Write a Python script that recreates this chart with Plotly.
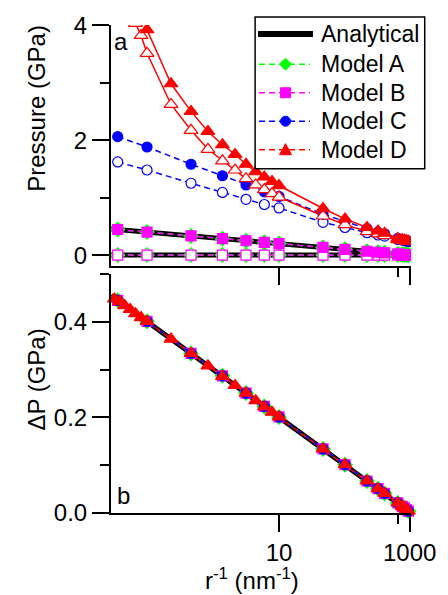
import plotly.graph_objects as go

# ---- data -------------------------------------------------------------
# sampling points, r^-1 (nm^-1)
x_abc = [4.5, 5, 6, 7, 8, 9, 10, 15, 20, 30, 40, 50, 100, 150, 200, 300, 500]
x_d = [4.45, 4.53, 4.61, 4.7, 4.79, 4.89, 5, 5.5, 6, 6.5, 7, 7.5, 8, 8.5, 9, 9.5,
       10, 15, 20, 30, 40, 50, 100, 150, 200, 300, 500]
x_an = [4.4, 5, 6, 7, 8, 10, 15, 20, 50, 100, 1000]

# analytical curves (GPa)
p_an_in = [0.455, 0.40, 0.333, 0.286, 0.25, 0.20, 0.133, 0.10, 0.04, 0.02, 0.002]
p_an_out = [0.0, 0.0, 0.0, 0.0, 0.0, 0.0, 0.0, 0.0, 0.0, 0.0, 0.0]
dp_an = [0.455, 0.40, 0.333, 0.286, 0.25, 0.20, 0.133, 0.10, 0.04, 0.02, 0.002]

# model A / B (GPa)
pa_in = [0.445, 0.40, 0.334, 0.286, 0.25, 0.222, 0.20, 0.133, 0.10, 0.067, 0.05,
         0.04, 0.02, 0.013, 0.01, 0.007, 0.004]
pa_out = [0.0] * 17
pb_in = [0.445, 0.40, 0.334, 0.286, 0.25, 0.222, 0.20, 0.133, 0.10, 0.067, 0.05,
         0.04, 0.02, 0.013, 0.01, 0.007, 0.004]
pb_out = [0.0] * 17

# model C (GPa)
pc_in = [2.06, 1.88, 1.58, 1.38, 1.22, 1.10, 1.02, 0.71, 0.58, 0.46, 0.40, 0.37,
         0.29, 0.27, 0.26, 0.25, 0.24]
pc_out = [1.62, 1.48, 1.25, 1.09, 0.97, 0.88, 0.82, 0.57, 0.48, 0.39, 0.35, 0.33,
          0.27, 0.26, 0.25, 0.245, 0.238]

# model D (GPa)
pd_in = [6.2, 5.6, 5.1, 4.75, 4.45, 4.23, 3.92, 2.98, 2.50, 2.15, 1.92, 1.75,
         1.58, 1.45, 1.36, 1.28, 1.21, 0.81, 0.63, 0.48, 0.42, 0.38, 0.29, 0.27,
         0.26, 0.25, 0.24]
pd_out = [5.75, 5.16, 4.67, 4.32, 4.03, 3.82, 3.51, 2.62, 2.17, 1.84, 1.64, 1.48,
          1.33, 1.22, 1.14, 1.07, 1.01, 0.68, 0.53, 0.41, 0.37, 0.34, 0.27, 0.26,
          0.25, 0.243, 0.236]

# pressure jump (GPa)
dp_abc = [0.445, 0.401, 0.334, 0.287, 0.251, 0.223, 0.201, 0.134, 0.101, 0.067,
          0.051, 0.041, 0.021, 0.014, 0.011, 0.007, 0.004]
dp_d = [0.448, 0.442, 0.434, 0.426, 0.417, 0.409, 0.401, 0.364, 0.334, 0.308,
        0.286, 0.267, 0.251, 0.235, 0.222, 0.211, 0.201, 0.134, 0.101, 0.067,
        0.051, 0.041, 0.021, 0.014, 0.011, 0.007, 0.004]

legend_names = ["Analytical", "Model A", "Model B", "Model C", "Model D"]

# ---- styling ------------------------------------------------------------
FONT = "Liberation Sans, Arial, sans-serif"
GREEN, MAGENTA, BLUE, RED = "#00ff00", "#ff00ff", "#0000ff", "#ff0000"
DASH = "6px,4px"

W, H = 448, 595
ML, MR, MT, MB = 111, 31, 21, 82
PW, PH = W - ML - MR, H - MT - MB


def px(xp):
    return (xp - ML) / PW


def py(yp):
    return (H - MB - yp) / PH


def recip(xs):
    # the horizontal axis is linear in r (reversed), labelled in r^-1
    return [1.0 / v for v in xs]


fig = go.Figure()


def add(xs, ys, color, symbol, filled, axis, dash=DASH, size=10, lw=1.5,
        clip=True):
    xa, ya = axis
    fig.add_trace(go.Scatter(
        x=recip(xs), y=ys, mode="lines+markers", xaxis=xa, yaxis=ya,
        line=dict(color=color, width=lw, dash=dash),
        marker=dict(symbol=symbol, size=size,
                    color=color if filled else "white",
                    line=dict(color=color, width=1.2)),
        cliponaxis=clip, showlegend=False))


TOP = ("x2", "y2")
BOT = ("x", "y")

# top panel: pressures
for ys in (p_an_in, p_an_out):
    fig.add_trace(go.Scatter(x=recip(x_an), y=ys, mode="lines", xaxis="x2",
                             yaxis="y2", line=dict(color="black", width=5),
                             showlegend=False))
add(x_abc, pa_out, GREEN, "diamond", False, TOP, size=11)
add(x_abc, pa_in, GREEN, "diamond", True, TOP, size=11)
add(x_abc, pb_out, MAGENTA, "square", False, TOP, size=10)
add(x_abc, pb_in, MAGENTA, "square", True, TOP, size=10)
add(x_abc, pc_out, BLUE, "circle", False, TOP, size=10)
add(x_abc, pc_in, BLUE, "circle", True, TOP, size=10)
add(x_d, pd_out, RED, "triangle-up", False, TOP, dash="solid", size=12)
add(x_d, pd_in, RED, "triangle-up", True, TOP, dash="solid", size=12)

# bottom panel: pressure jump
fig.add_trace(go.Scatter(x=recip(x_an), y=dp_an, mode="lines", xaxis="x",
                         yaxis="y", line=dict(color="black", width=5),
                         showlegend=False))
add(x_abc, dp_abc, GREEN, "diamond", True, BOT, size=11, clip=False)
add(x_abc, dp_abc, MAGENTA, "square", True, BOT, size=10, clip=False)
add(x_abc, dp_abc, BLUE, "circle", True, BOT, size=10, clip=False)
add(x_d, dp_d, RED, "triangle-up", True, BOT, size=12, clip=False)

# ---- legend box drawn with shapes (pixel-sized symbols) ----------------
shapes = [dict(type="rect", xref="paper", yref="paper", x0=px(258), x1=px(431),
               y0=py(166), y1=py(13), line=dict(color="black", width=1.5),
               fillcolor="white", layer="above")]
annotations = []
row_y = [30, 60.5, 89.3, 118, 146.7]
colors = ["black", GREEN, MAGENTA, BLUE, RED]
sym_paths = [None,
             "M-6,0 L0,6 L6,0 L0,-6 Z",
             "M-5,-5 L5,-5 L5,5 L-5,5 Z",
             None,
             "M-6,-5 L6,-5 L0,6 Z"]
for i, (name, col, yrow) in enumerate(zip(legend_names, colors, row_y)):
    if i == 0:
        shapes.append(dict(type="line", xref="paper", yref="paper",
                           x0=px(261), x1=px(317), y0=py(yrow), y1=py(yrow),
                           line=dict(color=col, width=6), layer="above"))
    else:
        shapes.append(dict(type="line", xref="paper", yref="paper",
                           x0=px(262), x1=px(314), y0=py(yrow), y1=py(yrow),
                           line=dict(color=col, width=1.5, dash=DASH),
                           layer="above"))
        common = dict(xref="paper", yref="paper", xsizemode="pixel",
                      ysizemode="pixel", xanchor=px(289), yanchor=py(yrow),
                      fillcolor=col, line=dict(color=col, width=1),
                      layer="above")
        if sym_paths[i] is None:
            shapes.append(dict(type="circle", x0=-5, x1=5, y0=-5, y1=5, **common))
        else:
            shapes.append(dict(type="path", path=sym_paths[i], **common))
    annotations.append(dict(text=name, x=px(323), y=py(yrow), xref="paper",
                            yref="paper", xanchor="left", yanchor="middle",
                            showarrow=False,
                            font=dict(family=FONT, size=23, color="black")))

# axis titles and panel letters
text_font = dict(family=FONT, size=24, color="black")
annotations += [
    dict(text="Pressure (GPa)", x=px(35), y=py(105), textangle=-90),
    dict(text="ΔP (GPa)", x=px(35), y=py(378), textangle=-90),
    dict(text="r<sup>-1</sup> (nm<sup>-1</sup>)", x=px(255), y=py(580)),
    dict(text="a", x=px(121), y=py(38)),
    dict(text="b", x=px(124), y=py(495)),
]
for a in annotations[len(legend_names):]:
    a.update(xref="paper", yref="paper", xanchor="center", yanchor="middle",
             showarrow=False, font=text_font)

axis_common = dict(showline=True, linecolor="black", linewidth=2, ticks="outside",
                   ticklen=17, tickwidth=2, tickcolor="black", showgrid=False,
                   zeroline=False, tickfont=dict(family=FONT, size=24, color="black"))
minor_common = dict(ticks="outside", ticklen=9, tickwidth=2, tickcolor="black",
                    showgrid=False)

fig.update_layout(
    width=W, height=H,
    margin=dict(l=ML, r=MR, t=MT, b=MB),
    paper_bgcolor="white", plot_bgcolor="white",
    font=dict(family=FONT, color="black"),
    showlegend=False,
    xaxis=dict(domain=[0, 1], range=[0.2273, 0], tickmode="array",
               tickvals=[0.1, 0.001], ticktext=["10", "1000"],
               minor=dict(tickmode="array", tickvals=[0.01], **minor_common),
               anchor="y", **axis_common),
    xaxis2=dict(domain=[0, 1], range=[0.2273, 0], tickmode="array",
                tickvals=[0.1, 0.001], showticklabels=False, matches="x",
                minor=dict(tickmode="array", tickvals=[0.01], **minor_common),
                anchor="y2", **axis_common),
    yaxis=dict(domain=[0, py(272)], range=[0, 0.5002], tickmode="array",
               tickvals=[0, 0.2, 0.4], ticktext=["0.0", "0.2", "0.4"],
               minor=dict(tickmode="array", tickvals=[0.1, 0.3, 0.5], **minor_common),
               anchor="x", **axis_common),
    yaxis2=dict(domain=[py(264), 1], range=[-0.19, 4.002], tickmode="array",
                tickvals=[0, 2, 4], ticktext=["0", "2", "4"],
                minor=dict(tickmode="array", tickvals=[1, 3], **minor_common),
                anchor="x2", **axis_common),
    shapes=shapes,
    annotations=annotations,
)

fig.write_html("out.html")
